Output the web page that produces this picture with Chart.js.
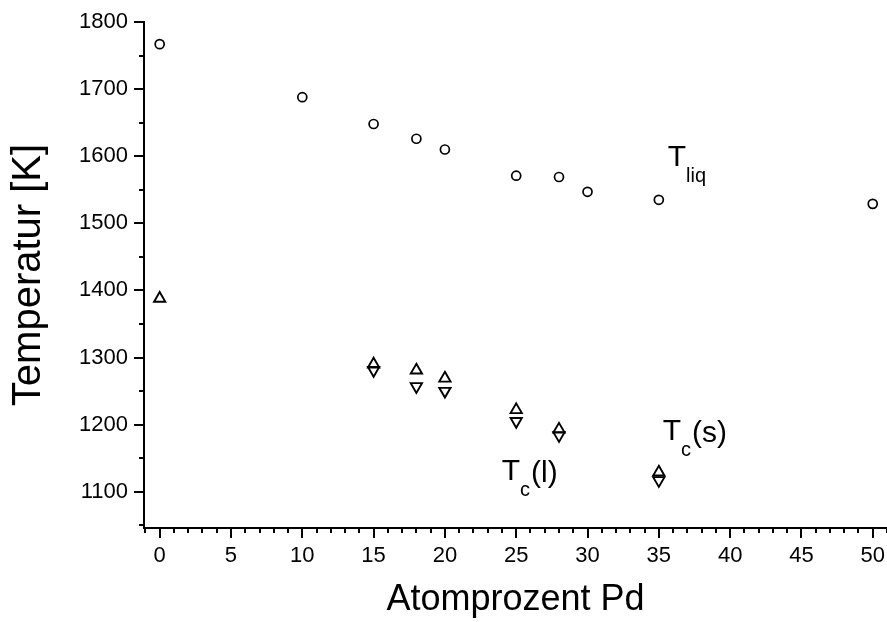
<!DOCTYPE html>
<html>
<head>
<meta charset="utf-8">
<script src="https://cdn.jsdelivr.net/npm/chart.js@4.4.1/dist/chart.umd.min.js"></script>
<style>
html,body{margin:0;padding:0;background:#fff;}
#wrap{width:887px;height:622px;position:relative;}
</style>
</head>
<body>
<div id="wrap"><canvas id="c" width="887" height="622"></canvas></div>
<script>
// Liquidus temperatures (circles)
const liqX = [0, 10, 15, 18, 20, 25, 28, 30, 35, 50];
const liqY = [1767, 1688, 1648, 1626, 1610, 1571, 1569, 1547, 1535, 1529];
// Upward triangles
const upX = [0, 15, 18, 20, 25, 28, 35];
const upY = [1388, 1290, 1281, 1269, 1222, 1193, 1129];
// Downward triangles
const downX = [15, 18, 20, 25, 28, 35];
const downY = [1281, 1257, 1250, 1205, 1184, 1117];
// Tick labels
const xTicks = [0, 5, 10, 15, 20, 25, 30, 35, 40, 45, 50];
const yTicks = [1100, 1200, 1300, 1400, 1500, 1600, 1700, 1800];
// Annotation labels (main, subscript, suffix) in data coordinates
const annText = [
  {main: 'T', sub: 'liq', tail: '', x: 35.62, y: 1585},
  {main: 'T', sub: 'c', tail: '(s)', x: 35.27, y: 1177},
  {main: 'T', sub: 'c', tail: '(l)', x: 23.98, y: 1117}
];

const FONT = '"Liberation Sans", Arial, sans-serif';
const toPts = (xs, ys) => xs.map((x, i) => ({x: x, y: ys[i]}));

const minorTicks = {
  id: 'minorTicks',
  afterDraw(chart) {
    const ctx = chart.ctx;
    const xs = chart.scales.x, ys = chart.scales.y;
    ctx.save();
    ctx.strokeStyle = '#000';
    ctx.lineWidth = 2;
    ctx.beginPath();
    for (let v = -1; v <= 51; v += 1) {
      if (v % 5 === 0) continue;
      const px = Math.round(xs.getPixelForValue(v));
      if (px > xs.right + 1) continue;
      ctx.moveTo(px, xs.top);
      ctx.lineTo(px, xs.top + 5);
    }
    for (let v = 1050; v <= 1800; v += 50) {
      if (v % 100 === 0) continue;
      const py = Math.round(ys.getPixelForValue(v));
      if (py > ys.bottom) continue;
      ctx.moveTo(ys.right, py);
      ctx.lineTo(ys.right - 5, py);
    }
    ctx.stroke();
    // annotations
    ctx.fillStyle = '#000';
    ctx.textBaseline = 'alphabetic';
    ctx.textAlign = 'left';
    annText.forEach(a => {
      let px = xs.getPixelForValue(a.x);
      const py = ys.getPixelForValue(a.y);
      ctx.font = '30px ' + FONT;
      ctx.fillText(a.main, px, py);
      px += ctx.measureText(a.main).width;
      ctx.font = '20px ' + FONT;
      ctx.fillText(a.sub, px, py + 16);
      px += ctx.measureText(a.sub).width + 1;
      if (a.tail) {
        ctx.font = '30px ' + FONT;
        ctx.fillText(a.tail, px, py + 2);
      }
    });
    ctx.restore();
  }
};

new Chart(document.getElementById('c'), {
  type: 'scatter',
  data: {
    datasets: [
      {data: toPts(liqX, liqY), pointStyle: 'circle', pointRadius: 4.5, borderColor: '#000', backgroundColor: '#fff', borderWidth: 1.7},
      {data: toPts(upX, upY), pointStyle: 'triangle', pointRadius: 6.5, borderColor: '#000', backgroundColor: 'rgba(255,255,255,0)', borderWidth: 1.9},
      {data: toPts(downX, downY), pointStyle: 'triangle', rotation: 180, pointRadius: 6.5, borderColor: '#000', backgroundColor: 'rgba(255,255,255,0)', borderWidth: 1.9}
    ]
  },
  options: {
    responsive: false,
    animation: false,
    layout: {autoPadding: false, padding: {top: 22, right: 0, left: 0, bottom: 0}},
    plugins: {legend: {display: false}, tooltip: {enabled: false}},
    scales: {
      x: {
        type: 'linear', min: -1.1, max: 51,
        afterBuildTicks: s => { s.ticks = xTicks.map(v => ({value: v})); },
        afterFit: s => { s.height = 94; s.paddingRight = 0; s.paddingLeft = 0; },
        border: {display: true, color: '#000', width: 2},
        grid: {display: true, drawOnChartArea: false, drawTicks: true, tickLength: 10, color: '#000', lineWidth: 2},
        ticks: {color: '#000', font: {family: FONT, size: 22}, padding: 5, maxRotation: 0, callback: v => String(v)},
        title: {display: true, text: 'Atomprozent Pd', color: '#000', font: {family: FONT, size: 36}, padding: {top: 0, bottom: 0}}
      },
      y: {
        type: 'linear', min: 1046, max: 1800,
        afterBuildTicks: s => { s.ticks = yTicks.map(v => ({value: v})); },
        afterFit: s => { s.width = 144; s.paddingTop = 0; s.paddingBottom = 0; },
        border: {display: true, color: '#000', width: 2},
        grid: {display: true, drawOnChartArea: false, drawTicks: true, tickLength: 10, color: '#000', lineWidth: 2},
        ticks: {color: '#000', font: {family: FONT, size: 22}, padding: 6, callback: v => String(v)},
        title: {display: true, text: 'Temperatur [K]', color: '#000', font: {family: FONT, size: 40}, padding: {top: 5, bottom: 0}}
      }
    }
  },
  plugins: [minorTicks]
});
</script>
</body>
</html>
